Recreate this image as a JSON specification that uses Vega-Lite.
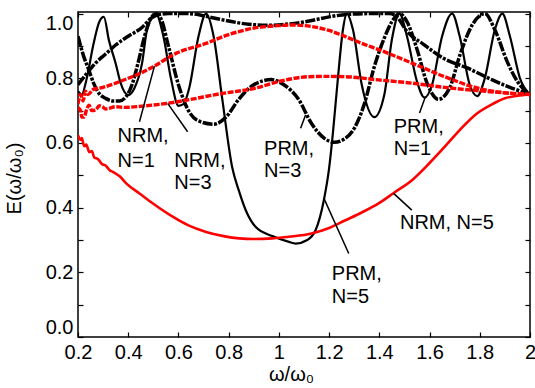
{
  "$schema": "https://vega.github.io/schema/vega-lite/v6.json",
  "width": 452,
  "height": 325,
  "autosize": {"type": "none"},
  "padding": {"left": 78, "top": 12, "right": 5, "bottom": 51},
  "background": "white",
  "config": {
    "view": {"stroke": "black", "strokeWidth": 1.5},
    "axis": {"labelFont": "Liberation Sans", "labelFontSize": 20, "labelColor": "black", "titleFont": "Liberation Sans", "titleFontSize": 20, "titleFontWeight": "normal", "titleColor": "black", "tickColor": "black", "grid": false, "domain": false}
  },
  "datasets": {
    "prm": [
      {"s":"PRM, N=1","x":0.20,"y":0.78},{"s":"PRM, N=1","x":0.24,"y":0.82},{"s":"PRM, N=1","x":0.27,"y":0.847},{"s":"PRM, N=1","x":0.31,"y":0.875},{"s":"PRM, N=1","x":0.35,"y":0.903},{"s":"PRM, N=1","x":0.40,"y":0.93},{"s":"PRM, N=1","x":0.456,"y":0.958},{"s":"PRM, N=1","x":0.49,"y":0.985},{"s":"PRM, N=1","x":0.52,"y":0.997},{"s":"PRM, N=1","x":0.56,"y":1.0},{"s":"PRM, N=1","x":0.64,"y":1.0},{"s":"PRM, N=1","x":0.72,"y":0.99},{"s":"PRM, N=1","x":0.80,"y":0.977},{"s":"PRM, N=1","x":0.88,"y":0.967},{"s":"PRM, N=1","x":0.96,"y":0.964},{"s":"PRM, N=1","x":1.04,"y":0.968},{"s":"PRM, N=1","x":1.12,"y":0.977},{"s":"PRM, N=1","x":1.20,"y":0.99},{"s":"PRM, N=1","x":1.28,"y":0.998},{"s":"PRM, N=1","x":1.36,"y":1.0},{"s":"PRM, N=1","x":1.44,"y":1.0},{"s":"PRM, N=1","x":1.47,"y":0.99},{"s":"PRM, N=1","x":1.51,"y":0.945},{"s":"PRM, N=1","x":1.576,"y":0.905},{"s":"PRM, N=1","x":1.655,"y":0.862},{"s":"PRM, N=1","x":1.75,"y":0.832},{"s":"PRM, N=1","x":1.85,"y":0.795},{"s":"PRM, N=1","x":1.92,"y":0.772},{"s":"PRM, N=1","x":2.0,"y":0.75},
      {"s":"PRM, N=3","x":0.20,"y":0.93},{"s":"PRM, N=3","x":0.223,"y":0.867},{"s":"PRM, N=3","x":0.243,"y":0.826},{"s":"PRM, N=3","x":0.262,"y":0.785},{"s":"PRM, N=3","x":0.285,"y":0.752},{"s":"PRM, N=3","x":0.31,"y":0.738},{"s":"PRM, N=3","x":0.34,"y":0.73},{"s":"PRM, N=3","x":0.365,"y":0.73},{"s":"PRM, N=3","x":0.39,"y":0.742},{"s":"PRM, N=3","x":0.415,"y":0.78},{"s":"PRM, N=3","x":0.44,"y":0.85},{"s":"PRM, N=3","x":0.465,"y":0.93},{"s":"PRM, N=3","x":0.49,"y":0.985},{"s":"PRM, N=3","x":0.51,"y":1.0},{"s":"PRM, N=3","x":0.53,"y":0.985},{"s":"PRM, N=3","x":0.56,"y":0.9},{"s":"PRM, N=3","x":0.60,"y":0.78},{"s":"PRM, N=3","x":0.64,"y":0.70},{"s":"PRM, N=3","x":0.68,"y":0.668},{"s":"PRM, N=3","x":0.74,"y":0.658},{"s":"PRM, N=3","x":0.79,"y":0.68},{"s":"PRM, N=3","x":0.84,"y":0.735},{"s":"PRM, N=3","x":0.90,"y":0.78},{"s":"PRM, N=3","x":0.97,"y":0.796},{"s":"PRM, N=3","x":1.02,"y":0.78},{"s":"PRM, N=3","x":1.08,"y":0.733},{"s":"PRM, N=3","x":1.13,"y":0.66},{"s":"PRM, N=3","x":1.18,"y":0.615},{"s":"PRM, N=3","x":1.22,"y":0.602},{"s":"PRM, N=3","x":1.26,"y":0.612},{"s":"PRM, N=3","x":1.30,"y":0.645},{"s":"PRM, N=3","x":1.34,"y":0.72},{"s":"PRM, N=3","x":1.38,"y":0.836},{"s":"PRM, N=3","x":1.42,"y":0.925},{"s":"PRM, N=3","x":1.45,"y":0.975},{"s":"PRM, N=3","x":1.48,"y":1.0},{"s":"PRM, N=3","x":1.51,"y":0.975},{"s":"PRM, N=3","x":1.55,"y":0.89},{"s":"PRM, N=3","x":1.59,"y":0.785},{"s":"PRM, N=3","x":1.635,"y":0.735},{"s":"PRM, N=3","x":1.68,"y":0.77},{"s":"PRM, N=3","x":1.72,"y":0.87},{"s":"PRM, N=3","x":1.77,"y":0.965},{"s":"PRM, N=3","x":1.82,"y":1.0},{"s":"PRM, N=3","x":1.86,"y":0.95},{"s":"PRM, N=3","x":1.91,"y":0.85},{"s":"PRM, N=3","x":1.95,"y":0.79},{"s":"PRM, N=3","x":2.0,"y":0.75}
    ],
    "prm5": [
      {"x":0.20,"y":0.76},{"x":0.215,"y":0.75},{"x":0.235,"y":0.80},{"x":0.26,"y":0.90},{"x":0.285,"y":0.975},{"x":0.303,"y":0.99},{"x":0.323,"y":0.918},{"x":0.35,"y":0.846},{"x":0.37,"y":0.785},{"x":0.40,"y":0.748},{"x":0.425,"y":0.77},{"x":0.455,"y":0.846},{"x":0.475,"y":0.95},{"x":0.51,"y":1.0},{"x":0.54,"y":0.93},{"x":0.57,"y":0.80},{"x":0.60,"y":0.715},{"x":0.62,"y":0.72},{"x":0.643,"y":0.77},{"x":0.68,"y":0.93},{"x":0.71,"y":1.0},{"x":0.74,"y":0.93},{"x":0.775,"y":0.733},{"x":0.814,"y":0.525},{"x":0.84,"y":0.454},{"x":0.868,"y":0.392},{"x":0.908,"y":0.34},{"x":0.974,"y":0.312},{"x":1.04,"y":0.294},{"x":1.067,"y":0.289},{"x":1.113,"y":0.30},{"x":1.146,"y":0.33},{"x":1.179,"y":0.423},{"x":1.199,"y":0.516},{"x":1.215,"y":0.63},{"x":1.235,"y":0.80},{"x":1.255,"y":0.95},{"x":1.27,"y":1.0},{"x":1.295,"y":0.95},{"x":1.33,"y":0.78},{"x":1.38,"y":0.68},{"x":1.42,"y":0.75},{"x":1.45,"y":0.92},{"x":1.48,"y":1.0},{"x":1.51,"y":0.93},{"x":1.55,"y":0.79},{"x":1.58,"y":0.74},{"x":1.61,"y":0.78},{"x":1.65,"y":0.93},{"x":1.69,"y":1.0},{"x":1.72,"y":0.93},{"x":1.76,"y":0.78},{"x":1.79,"y":0.745},{"x":1.82,"y":0.80},{"x":1.86,"y":0.95},{"x":1.89,"y":1.0},{"x":1.92,"y":0.93},{"x":1.96,"y":0.80},{"x":2.0,"y":0.75}
    ],
    "nrm": [
      {"s":"NRM, N=1","x":0.20,"y":0.72},{"s":"NRM, N=1","x":0.21,"y":0.75},{"s":"NRM, N=1","x":0.22,"y":0.73},{"s":"NRM, N=1","x":0.23,"y":0.76},{"s":"NRM, N=1","x":0.24,"y":0.75},{"s":"NRM, N=1","x":0.26,"y":0.765},{"s":"NRM, N=1","x":0.30,"y":0.772},{"s":"NRM, N=1","x":0.35,"y":0.785},{"s":"NRM, N=1","x":0.40,"y":0.80},{"s":"NRM, N=1","x":0.455,"y":0.818},{"s":"NRM, N=1","x":0.50,"y":0.836},{"s":"NRM, N=1","x":0.59,"y":0.877},{"s":"NRM, N=1","x":0.71,"y":0.908},{"s":"NRM, N=1","x":0.80,"y":0.935},{"s":"NRM, N=1","x":0.90,"y":0.955},{"s":"NRM, N=1","x":1.00,"y":0.963},{"s":"NRM, N=1","x":1.05,"y":0.965},{"s":"NRM, N=1","x":1.13,"y":0.96},{"s":"NRM, N=1","x":1.20,"y":0.948},{"s":"NRM, N=1","x":1.265,"y":0.929},{"s":"NRM, N=1","x":1.33,"y":0.908},{"s":"NRM, N=1","x":1.40,"y":0.888},{"s":"NRM, N=1","x":1.53,"y":0.847},{"s":"NRM, N=1","x":1.66,"y":0.805},{"s":"NRM, N=1","x":1.79,"y":0.77},{"s":"NRM, N=1","x":1.90,"y":0.755},{"s":"NRM, N=1","x":2.0,"y":0.75},
      {"s":"NRM, N=3","x":0.20,"y":0.71},{"s":"NRM, N=3","x":0.21,"y":0.70},{"s":"NRM, N=3","x":0.215,"y":0.68},{"s":"NRM, N=3","x":0.224,"y":0.68},{"s":"NRM, N=3","x":0.235,"y":0.705},{"s":"NRM, N=3","x":0.244,"y":0.717},{"s":"NRM, N=3","x":0.255,"y":0.70},{"s":"NRM, N=3","x":0.27,"y":0.702},{"s":"NRM, N=3","x":0.285,"y":0.715},{"s":"NRM, N=3","x":0.297,"y":0.712},{"s":"NRM, N=3","x":0.31,"y":0.705},{"s":"NRM, N=3","x":0.323,"y":0.707},{"s":"NRM, N=3","x":0.35,"y":0.712},{"s":"NRM, N=3","x":0.39,"y":0.71},{"s":"NRM, N=3","x":0.456,"y":0.714},{"s":"NRM, N=3","x":0.55,"y":0.722},{"s":"NRM, N=3","x":0.644,"y":0.734},{"s":"NRM, N=3","x":0.75,"y":0.75},{"s":"NRM, N=3","x":0.908,"y":0.77},{"s":"NRM, N=3","x":1.0,"y":0.79},{"s":"NRM, N=3","x":1.12,"y":0.805},{"s":"NRM, N=3","x":1.20,"y":0.806},{"s":"NRM, N=3","x":1.265,"y":0.805},{"s":"NRM, N=3","x":1.397,"y":0.795},{"s":"NRM, N=3","x":1.53,"y":0.785},{"s":"NRM, N=3","x":1.66,"y":0.772},{"s":"NRM, N=3","x":1.79,"y":0.762},{"s":"NRM, N=3","x":1.90,"y":0.755},{"s":"NRM, N=3","x":2.0,"y":0.75}
    ],
    "nrm5": [
      {"x":0.20,"y":0.624},{"x":0.21,"y":0.61},{"x":0.215,"y":0.615},{"x":0.225,"y":0.59},{"x":0.233,"y":0.595},{"x":0.245,"y":0.572},{"x":0.255,"y":0.575},{"x":0.265,"y":0.555},{"x":0.28,"y":0.55},{"x":0.295,"y":0.535},{"x":0.31,"y":0.53},{"x":0.326,"y":0.516},{"x":0.34,"y":0.51},{"x":0.366,"y":0.497},{"x":0.392,"y":0.475},{"x":0.445,"y":0.444},{"x":0.50,"y":0.412},{"x":0.577,"y":0.372},{"x":0.64,"y":0.345},{"x":0.71,"y":0.325},{"x":0.78,"y":0.312},{"x":0.842,"y":0.305},{"x":0.90,"y":0.303},{"x":0.974,"y":0.305},{"x":1.04,"y":0.31},{"x":1.13,"y":0.32},{"x":1.20,"y":0.337},{"x":1.265,"y":0.361},{"x":1.33,"y":0.385},{"x":1.397,"y":0.413},{"x":1.46,"y":0.447},{"x":1.53,"y":0.485},{"x":1.60,"y":0.538},{"x":1.66,"y":0.588},{"x":1.72,"y":0.64},{"x":1.79,"y":0.692},{"x":1.85,"y":0.72},{"x":1.90,"y":0.738},{"x":1.95,"y":0.746},{"x":2.0,"y":0.75}
    ],
    "labels": [
      {"x":0.3575,"y":0.6028,"t":"NRM,"},{"x":0.3575,"y":0.527,"t":"N=1"},
      {"x":0.5837,"y":0.5254,"t":"NRM,"},{"x":0.5837,"y":0.4588,"t":"N=3"},
      {"x":0.9409,"y":0.5625,"t":"PRM,"},{"x":0.9409,"y":0.4944,"t":"N=3"},
      {"x":1.4575,"y":0.6307,"t":"PRM,"},{"x":1.4575,"y":0.5625,"t":"N=1"},
      {"x":1.4821,"y":0.3334,"t":"NRM, N=5"},
      {"x":1.2107,"y":0.1755,"t":"PRM,"},{"x":1.2107,"y":0.1043,"t":"N=5"}
    ],
    "leaders": [
      {"x":0.4448,"y":0.6656,"x2":0.5044,"y2":0.8375},
      {"x":0.6365,"y":0.6347,"x2":0.5571,"y2":0.7226},
      {"x":1.0865,"y":0.6452,"x2":1.1063,"y2":0.6864},
      {"x":1.56,"y":0.6926,"x2":1.5835,"y2":0.743},
      {"x":1.5294,"y":0.3923,"x2":1.4567,"y2":0.444},
      {"x":1.2782,"y":0.2582,"x2":1.1794,"y2":0.4285}
    ]
  },
  "resolve": {"axis": {"x": "independent", "y": "independent"}},
  "layer": [
    {
      "data": {"name": "prm5"},
      "mark": {"type": "line", "color": "black", "strokeWidth": 2.2, "interpolate": "monotone", "clip": true},
      "encoding": {
        "x": {"field": "x", "type": "quantitative", "scale": {"domain": [0.2, 2], "nice": false, "zero": false},
          "axis": {"orient": "bottom", "values": [0.2,0.4,0.6,0.8,1,1.2,1.4,1.6,1.8,2], "format": "~g", "labelFlush": false, "tickSize": -5, "tickWidth": 1.2, "labelPadding": 10, "title": "ω/ω₀", "titleX": 213, "titleY": 43, "titleBaseline": "alphabetic", "titleAlign": "center", "titleAnchor": null}},
        "y": {"field": "y", "type": "quantitative", "scale": {"domain": [0, 1.005], "nice": false, "zero": false},
          "axis": {"orient": "left", "values": [0,0.1,0.2,0.3,0.4,0.5,0.6,0.7,0.8,0.9,1.0], "labelExpr": "round(datum.value*10) % 2 == 0 ? format(datum.value, '.1f') : ''", "labelFlush": 3, "tickSize": -5, "tickWidth": 1.2, "labelPadding": 10, "title": "E(ω/ω₀)", "titleX": -58, "titleY": 166, "titleBaseline": "alphabetic", "titleAlign": "center", "titleAngle": -90, "titleAnchor": null}}
      }
    },
    {
      "data": {"name": "prm"},
      "mark": {"type": "line", "color": "black", "strokeWidth": 3.5, "strokeDash": [10, 1.5, 3, 1.5], "interpolate": "monotone", "clip": true},
      "encoding": {
        "x": {"field": "x", "type": "quantitative", "scale": {"domain": [0.2, 2], "nice": false, "zero": false}, "axis": null},
        "y": {"field": "y", "type": "quantitative", "scale": {"domain": [0, 1.005], "nice": false, "zero": false}, "axis": null},
        "detail": {"field": "s"}
      }
    },
    {
      "data": {"name": "nrm5"},
      "mark": {"type": "line", "color": "#ff0000", "strokeWidth": 2.6, "interpolate": "monotone", "clip": true},
      "encoding": {
        "x": {"field": "x", "type": "quantitative", "scale": {"domain": [0.2, 2], "nice": false, "zero": false}, "axis": null},
        "y": {"field": "y", "type": "quantitative", "scale": {"domain": [0, 1.005], "nice": false, "zero": false}, "axis": null}
      }
    },
    {
      "data": {"name": "nrm"},
      "mark": {"type": "line", "color": "#ff0000", "strokeWidth": 3.4, "strokeDash": [6, 1.5], "interpolate": "monotone", "clip": true},
      "encoding": {
        "x": {"field": "x", "type": "quantitative", "scale": {"domain": [0.2, 2], "nice": false, "zero": false}, "axis": null},
        "y": {"field": "y", "type": "quantitative", "scale": {"domain": [0, 1.005], "nice": false, "zero": false}, "axis": null},
        "detail": {"field": "s"}
      }
    },
    {
      "data": {"name": "leaders"},
      "mark": {"type": "rule", "color": "black", "strokeWidth": 1.5},
      "encoding": {
        "x": {"field": "x", "type": "quantitative", "scale": {"domain": [0.2, 2], "nice": false, "zero": false},
          "axis": {"orient": "top", "values": [0.2,0.4,0.6,0.8,1,1.2,1.4,1.6,1.8,2], "labels": false, "tickSize": -5, "tickWidth": 1.2, "title": null}},
        "y": {"field": "y", "type": "quantitative", "scale": {"domain": [0, 1.005], "nice": false, "zero": false},
          "axis": {"orient": "right", "values": [0,0.1,0.2,0.3,0.4,0.5,0.6,0.7,0.8,0.9,1.0], "labels": false, "tickSize": -5, "tickWidth": 1.2, "title": null}},
        "x2": {"field": "x2"},
        "y2": {"field": "y2"}
      }
    },
    {
      "data": {"name": "labels"},
      "mark": {"type": "text", "align": "left", "baseline": "alphabetic", "font": "Liberation Sans", "fontSize": 20, "color": "black"},
      "encoding": {
        "x": {"field": "x", "type": "quantitative", "scale": {"domain": [0.2, 2], "nice": false, "zero": false}, "axis": null},
        "y": {"field": "y", "type": "quantitative", "scale": {"domain": [0, 1.005], "nice": false, "zero": false}, "axis": null},
        "text": {"field": "t"}
      }
    }
  ]
}
